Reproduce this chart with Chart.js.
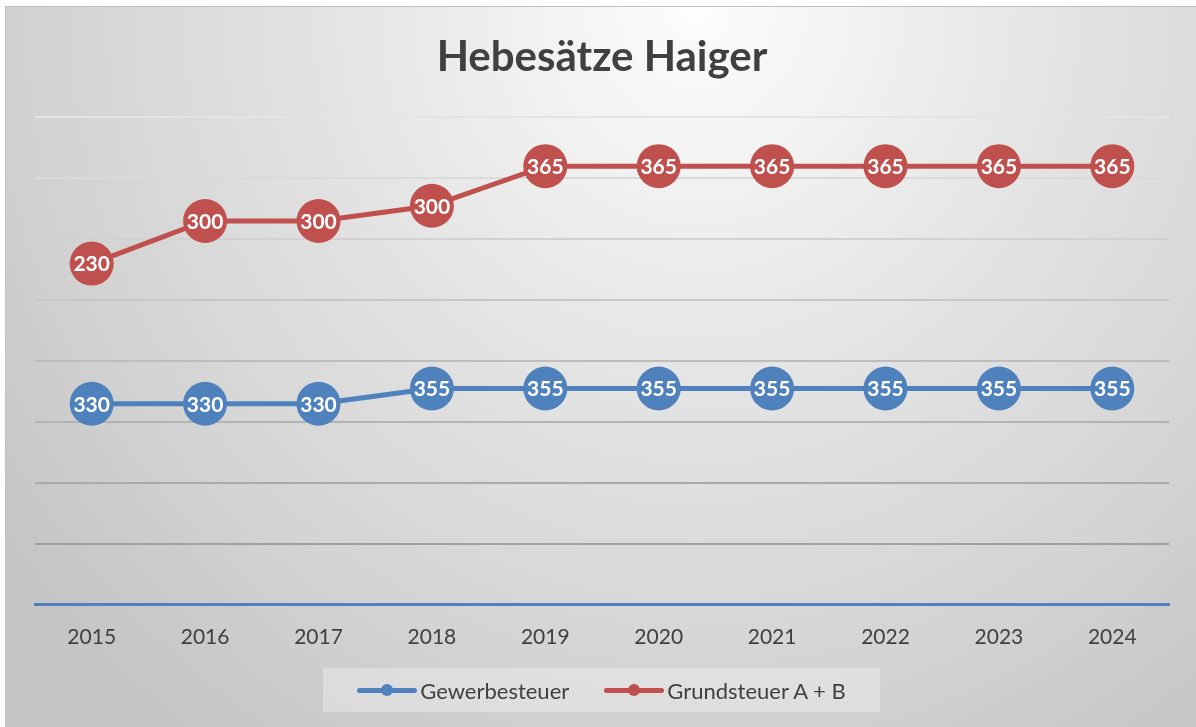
<!DOCTYPE html>
<html lang="de">
<head>
<meta charset="utf-8">
<title>Hebesätze Haiger</title>
<script src="https://cdn.jsdelivr.net/npm/chart.js@4"></script>
<style>
    html, body { margin: 0; padding: 0; background: #fff; overflow: hidden; }
    #wrap { position: relative; width: 1196px; height: 727px; }
    #frame {
        position: absolute; left: 5px; top: 6px; right: -1px; bottom: -1px;
        border: 1px solid #bfbfbf;
        background: radial-gradient(ellipse 72% 125% at 58% 0%, #fdfdfd 0%, #e4e4e4 42%, #d5d5d5 72%, #c5c5c5 100%);
    }
    #chart { position: absolute; left: 0; top: 0; }
    #legend {
        position: absolute; left: 323px; top: 668px; width: 557px; height: 44px;
        background: rgba(255, 255, 255, 0.3);
        display: flex; align-items: center; justify-content: center; gap: 35px;
        font-family: Lato, sans-serif; font-size: 22px; color: #404040;
    }
    .item { display: flex; align-items: center; gap: 3px; }
    .mark { position: relative; width: 60px; height: 14px; }
    .mark .ln { position: absolute; left: 0; right: 0; top: 4.5px; height: 5px; border-radius: 3px; }
    .mark .dot { position: absolute; left: 24px; top: 1px; width: 12px; height: 12px; border-radius: 50%; }
</style>
</head>
<body>
<div id="wrap">
    <div id="frame"></div>
    <canvas id="chart" width="1196" height="727"></canvas>
    <div id="legend"></div>
</div>
<script>
// Daten
const years = ['2015', '2016', '2017', '2018', '2019', '2020', '2021', '2022', '2023', '2024'];
const gewerbesteuer = [330, 330, 330, 355, 355, 355, 355, 355, 355, 355];
const grundsteuer = [230, 300, 300, 300, 365, 365, 365, 365, 365, 365];
const seriesNames = ['Gewerbesteuer', 'Grundsteuer A + B'];
const seriesColors = ['#4f81bd', '#c0504d'];
const yMax = 800;
const yStep = 100;

Chart.defaults.font.family = 'Lato, sans-serif';

// Werte in den Kreisen
const pointLabels = {
    id: 'pointLabels',
    afterDatasetsDraw(chart) {
        const ctx = chart.ctx;
        ctx.save();
        ctx.font = 'bold 21px Lato, sans-serif';
        ctx.fillStyle = '#ffffff';
        ctx.textAlign = 'center';
        ctx.textBaseline = 'middle';
        chart.data.datasets.forEach((ds, i) => {
            chart.getDatasetMeta(i).data.forEach((pt, j) => {
                ctx.fillText(ds.data[j], pt.x, pt.y + 1);
            });
        });
        ctx.restore();
    }
};

// Gitterlinien werden nach unten dunkler
function gridColor(c) {
    const v = c.tick ? c.tick.value : 0;
    if (v === 0) return 'rgba(0,0,0,0)';
    const t = v / yMax;
    const g = Math.round(150 + (228 - 150) * t);
    return `rgb(${g},${g},${g})`;
}

const ds = [gewerbesteuer, grundsteuer].map((data, i) => ({
    label: seriesNames[i],
    data: data,
    borderColor: seriesColors[i],
    backgroundColor: seriesColors[i],
    borderWidth: 5,
    pointRadius: 22,
    pointHoverRadius: 22,
    pointBorderWidth: 0,
    pointBackgroundColor: seriesColors[i],
    fill: false,
    tension: 0,
    clip: false
}));

new Chart(document.getElementById('chart'), {
    type: 'line',
    data: { labels: years, datasets: ds },
    plugins: [pointLabels],
    options: {
        responsive: false,
        animation: false,
        layout: { padding: { left: 35, right: 27, top: 0, bottom: 57 } },
        plugins: {
            legend: { display: false },
            tooltip: { enabled: false },
            title: {
                display: true,
                text: 'Hebesätze Haiger',
                color: '#404040',
                font: { size: 42, weight: 'bold' },
                padding: { top: 32, bottom: 35 }
            }
        },
        scales: {
            x: {
                offset: true,
                grid: { display: false, drawTicks: false },
                border: { display: true, color: '#4f81bd', width: 3 },
                ticks: { color: '#404040', font: { size: 21 }, padding: 20 }
            },
            y: {
                stacked: true,
                min: 0,
                max: yMax,
                ticks: { display: false, stepSize: yStep },
                grid: { color: gridColor, lineWidth: 2, drawTicks: false },
                border: { display: false }
            }
        }
    }
});

// Legende
document.getElementById('legend').innerHTML = seriesNames.map((n, i) => `
    <div class="item">
        <div class="mark"><div class="ln" style="background:${seriesColors[i]}"></div><div class="dot" style="background:${seriesColors[i]}"></div></div>
        <span>${n}</span>
    </div>`).join('');
</script>
</body>
</html>
